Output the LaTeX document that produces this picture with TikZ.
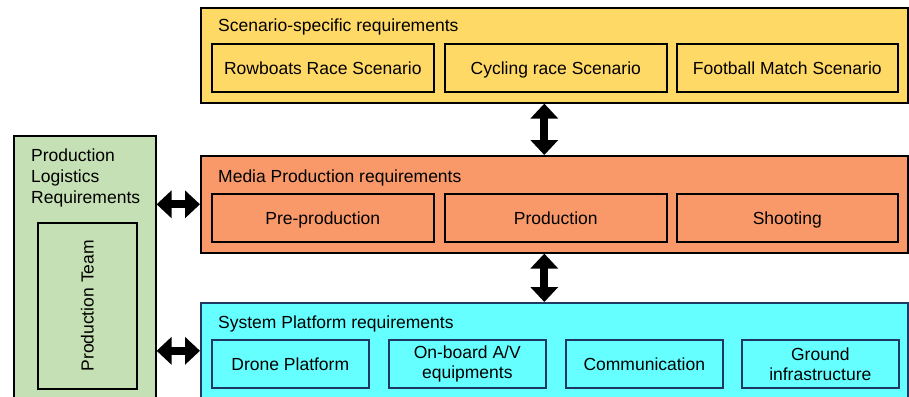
\documentclass[tikz,border=0pt]{standalone}
\usepackage{fontspec}
\setmainfont{Liberation Sans}
\usepackage{xcolor}
\usetikzlibrary{arrows.meta}

\definecolor{scenfill}{HTML}{FFD966}
\definecolor{mediafill}{HTML}{F9996A}
\definecolor{sysfill}{HTML}{66FFFF}
\definecolor{sysline}{HTML}{203864}
\definecolor{logifill}{HTML}{C5E0B4}

\tikzset{
    outer/.style={draw, line width=1.6pt, anchor=north west, inner sep=0pt},
    inbox/.style={draw, line width=1.6pt, anchor=north west, inner sep=0pt,
        minimum height=48pt, align=center, text height=14pt, text depth=1.5pt},
    title/.style={anchor=west, inner sep=0pt},
    dblarrow/.style={line width=8pt,
        {Triangle[width=27pt,length=15pt]}-{Triangle[width=27pt,length=15pt]}},
}

\begin{document}
\begin{tikzpicture}[x=1pt, y=-1pt, font=\fontsize{17.5}{21}\selectfont]
    \useasboundingbox (0,0) rectangle (909,396);
    \clip (0,0) rectangle (909,396);
    % Scenario-specific requirements
    \node[outer, fill=scenfill, minimum width=707pt, minimum height=95pt] (scen) at (200,7) {};
    \node[title] (scentitle) at (218,27) {Scenario-specific requirements};
    \node[inbox, minimum width=222pt] (rowb) at (211,43) {Rowboats Race Scenario};
    \node[inbox, minimum width=222pt] (cycl) at (444,43) {Cycling race Scenario};
    \node[inbox, minimum width=221pt] (foot) at (676,43) {Football Match Scenario};
    % Media Production requirements
    \node[outer, fill=mediafill, minimum width=707pt, minimum height=97pt] (media) at (200,155) {};
    \node[title] (mediatitle) at (218,177.5) {Media Production requirements};
    \node[inbox, minimum width=222pt] (prepro) at (211,193) {Pre-production};
    \node[inbox, minimum width=222pt] (prod) at (444,193) {Production};
    \node[inbox, minimum width=221pt] (shoot) at (676,193) {Shooting};
    % System Platform requirements
    \node[outer, draw=sysline, fill=sysfill, minimum width=707pt, minimum height=96pt] (sys) at (200,302) {};
    \node[title] (systitle) at (218,323.5) {System Platform requirements};
    \node[inbox, draw=sysline, minimum width=157pt] (drone) at (211,339) {Drone Platform};
    \node[inbox, draw=sysline, minimum width=157pt, text height=, text depth=] (onboard) at (388,339) {On-board A/V\\[-1pt]equipments};
    \node[inbox, draw=sysline, minimum width=157pt] (comm) at (565,339) {Communication};
    \node[inbox, draw=sysline, minimum width=157pt, text height=, text depth=] (ground) at (741,339) {Ground\\[-1pt]infrastructure};
    % Production Logistics Requirements
    \node[outer, fill=logifill, minimum width=142pt, minimum height=270pt] (logi) at (13,135) {};
    \node[title, align=left] (logititle) at (31,178) {Production\\Logistics\\Requirements};
    \node[outer, minimum width=99pt, minimum height=166pt] (team) at (37,222) {};
    \node[rotate=90, inner sep=0pt] (teamtext) at (team.center) {Production Team};
    % links between the requirement blocks
    \draw[dblarrow] ([xshift=-10pt]scen.south) -- ([xshift=-10pt]media.north);
    \draw[dblarrow] ([xshift=-10pt]media.south) -- ([xshift=-10pt]sys.north);
    \draw[dblarrow] (logi.east |- media.west) -- (media.west);
    \draw[dblarrow] (logi.east |- sys.west) -- (sys.west);
\end{tikzpicture}
\end{document}
